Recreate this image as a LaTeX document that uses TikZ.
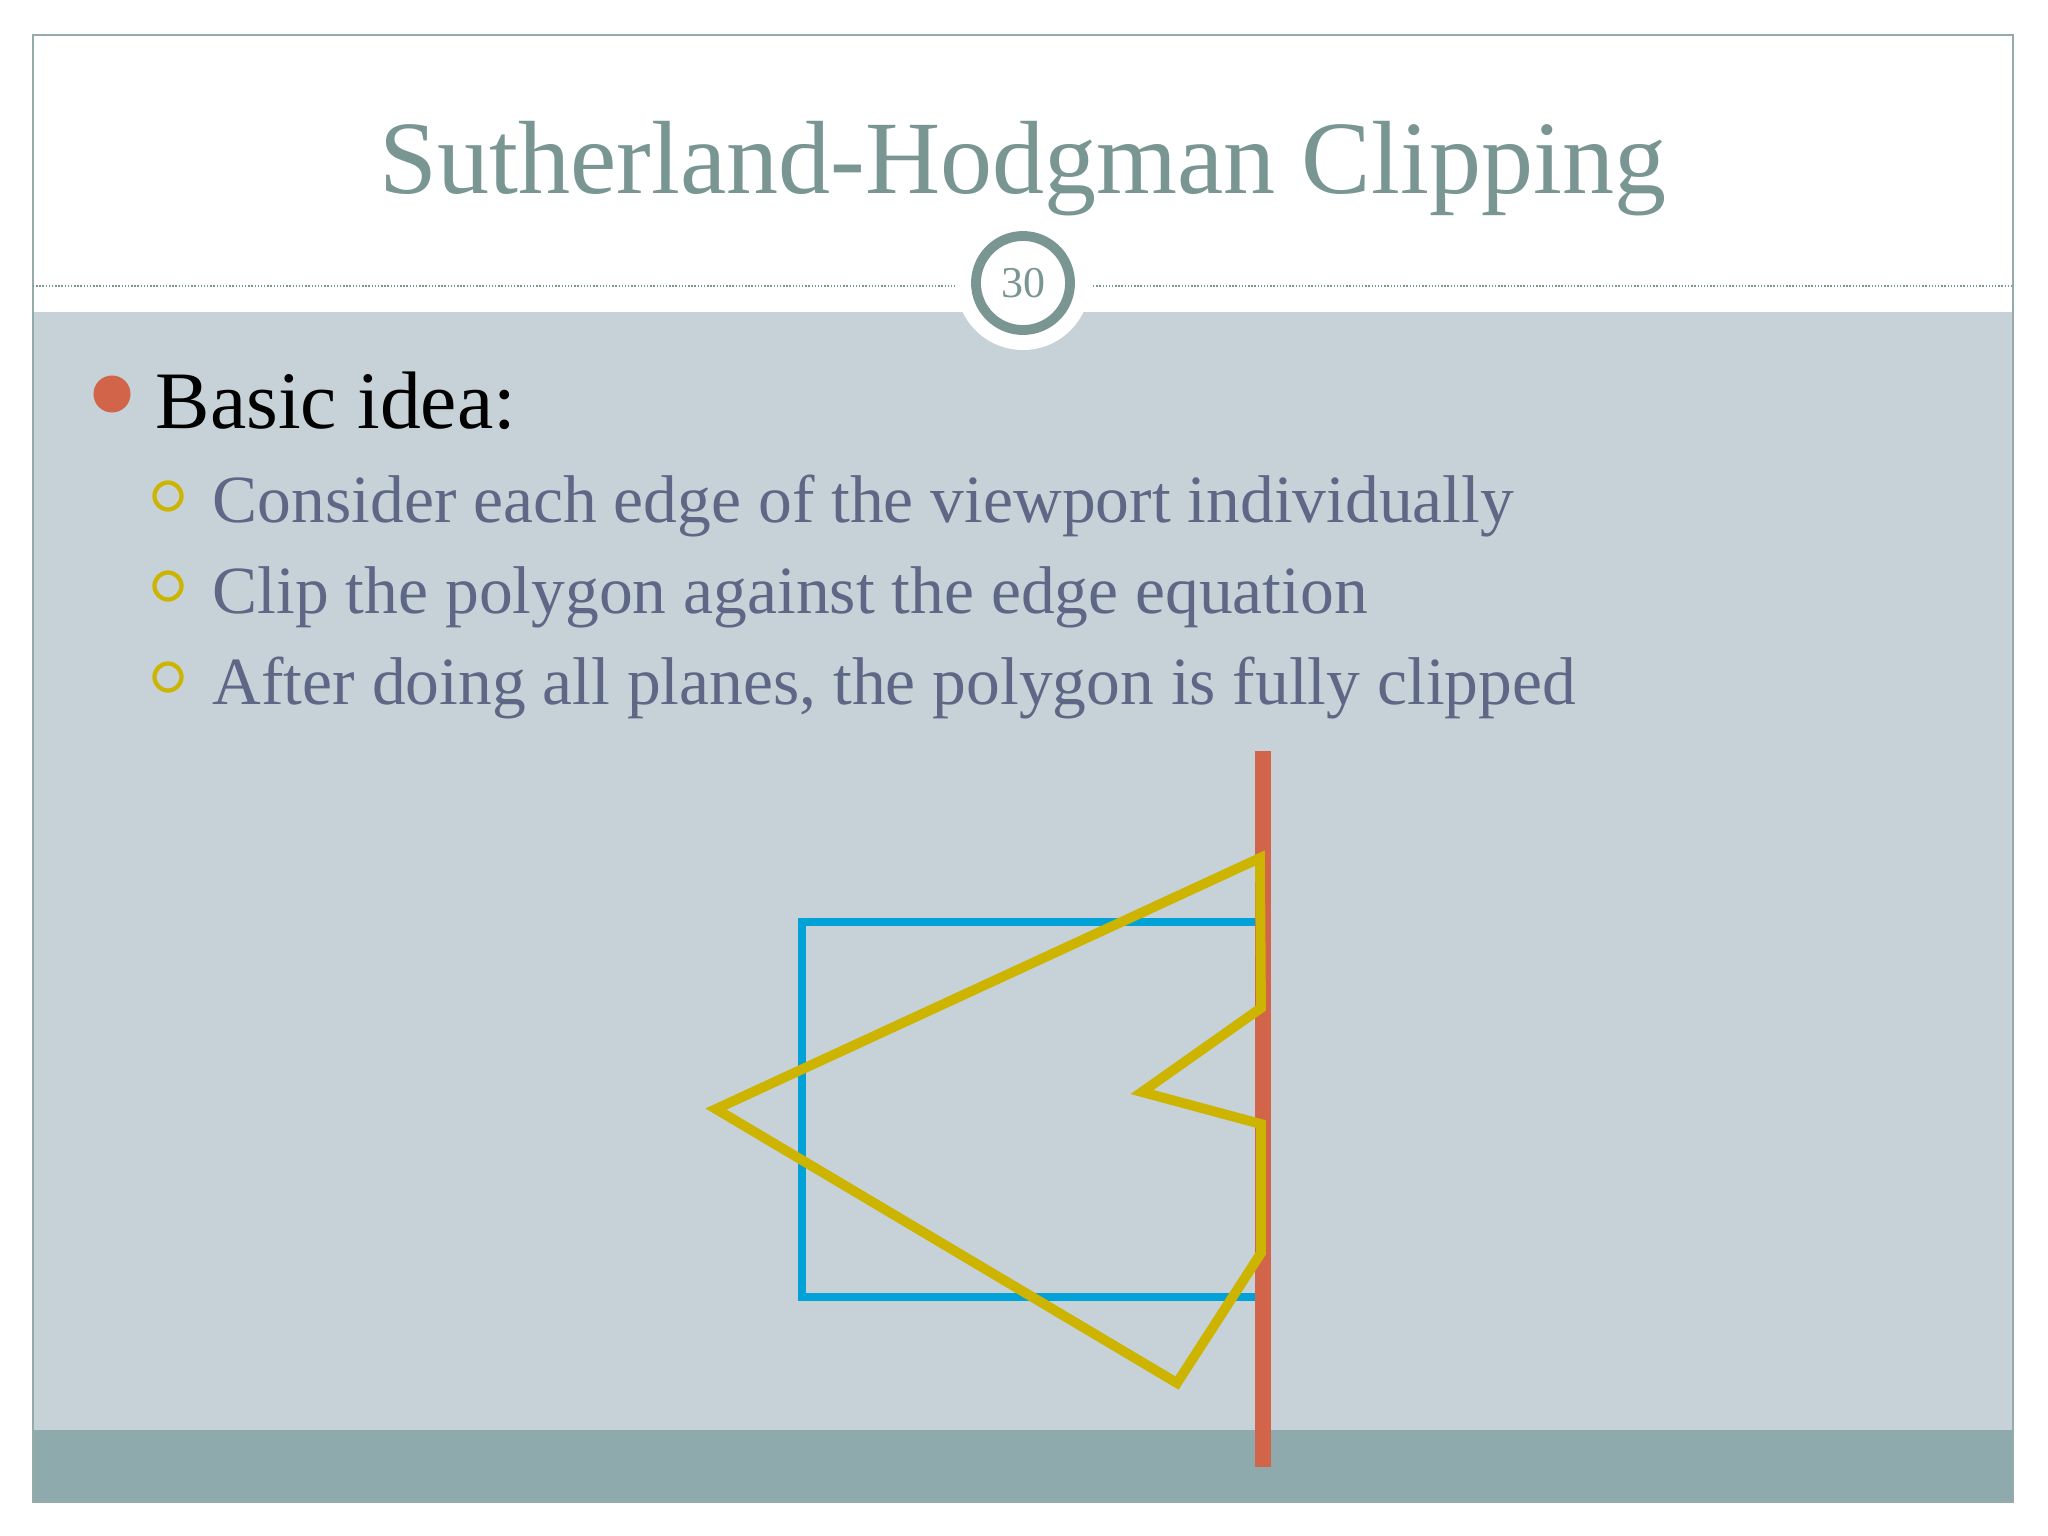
\documentclass[tikz,border=0pt]{standalone}
\usepackage{fontspec}
\setmainfont{Liberation Serif}
\usetikzlibrary{arrows.meta}
\definecolor{slidegray}{HTML}{C6D2D7}
\definecolor{footgray}{HTML}{8EAAAD}
\definecolor{titlecol}{HTML}{7A9693}
\definecolor{textcol}{HTML}{5E6886}
\definecolor{clipred}{HTML}{D2644A}
\definecolor{polyyel}{HTML}{CCB400}
\definecolor{viewblue}{HTML}{00A2D8}

\begin{document}
\begin{tikzpicture}[x=0.01cm, y=-0.01cm,
    	sub/.style = {anchor = base west, inner sep = 0pt, text = textcol, font = \fontsize{19.2}{22}\selectfont},
    	ring/.style = {draw = polyyel, line width = 1.2pt, circle, inner sep = 0pt, minimum size = 0.27cm},
    	sep/.style = {titlecol, line width = 0.6pt, dash pattern = on 0.4pt off 0.5pt},
    	edge/.style = {line width = 2.8pt, line join = miter}]
    	\useasboundingbox (0,0) rectangle (2048,1536);
    	% slide background
    	\fill[white] (0,0) rectangle (2048,1536);
    	\fill[slidegray] (33,312) rectangle (2013,1430);
    	\fill[footgray] (33,1430) rectangle (2013,1502);
    	\draw[titlecol!80, line width = 0.5pt] (33,35) rectangle (2013,1502);
    	\draw[sep] (33,286) -- (955,286);
    	\draw[sep] (1093,286) -- (2013,286);
    	\fill[white] (1023,283) circle (67);
    	% title and page number
    	\node[anchor = base, text = titlecol, font = \fontsize{29.6}{34}\selectfont] (title) at (1023,193) {Sutherland-Hodgman Clipping};
    	\node[circle, draw = titlecol, line width = 2.8pt, minimum size = 0.94cm, text = titlecol, font = \fontsize{12.5}{14}\selectfont] (num) at (1023,283) {30};
    	% bullets
    	\node[circle, fill = clipred, inner sep = 0pt, minimum size = 0.37cm] (b0) at (112,394) {};
    	\node[anchor = base west, inner sep = 0pt, font = \fontsize{23.2}{27}\selectfont] (t0) at (155,428) {Basic idea:};
    	\node[ring] (b1) at (168,496) {};
    	\node[ring] (b2) at (168,586) {};
    	\node[ring] (b3) at (168,677) {};
    	\node[sub] (t1) at (212,522) {Consider each edge of the viewport individually};
    	\node[sub] (t2) at (212,613) {Clip the polygon against the edge equation};
    	\node[sub] (t3) at (212,704) {After doing all planes, the polygon is fully clipped};
    	% viewport, clip edge and polygon
    	\draw[viewblue, line width = 2.2pt] (1258,922) -- (802,922) -- (802,1297) -- (1258,1297);
    	\draw[clipred, line width = 4.5pt] (1263,751) -- (1263,1467);
    	\coordinate (a) at (1260,858);
    	\coordinate (b) at (716,1109);
    	\coordinate (c) at (1177,1383);
    	\coordinate (d) at (1261,1253);
    	\coordinate (e) at (1261,1124);
    	\coordinate (f) at (1142,1092);
    	\coordinate (g) at (1261,1008);
    	\draw[edge, polyyel] (a) -- (b) -- (c) -- (d) -- (e) -- (f) -- (g) -- cycle;
    \end{tikzpicture}
\end{document}
